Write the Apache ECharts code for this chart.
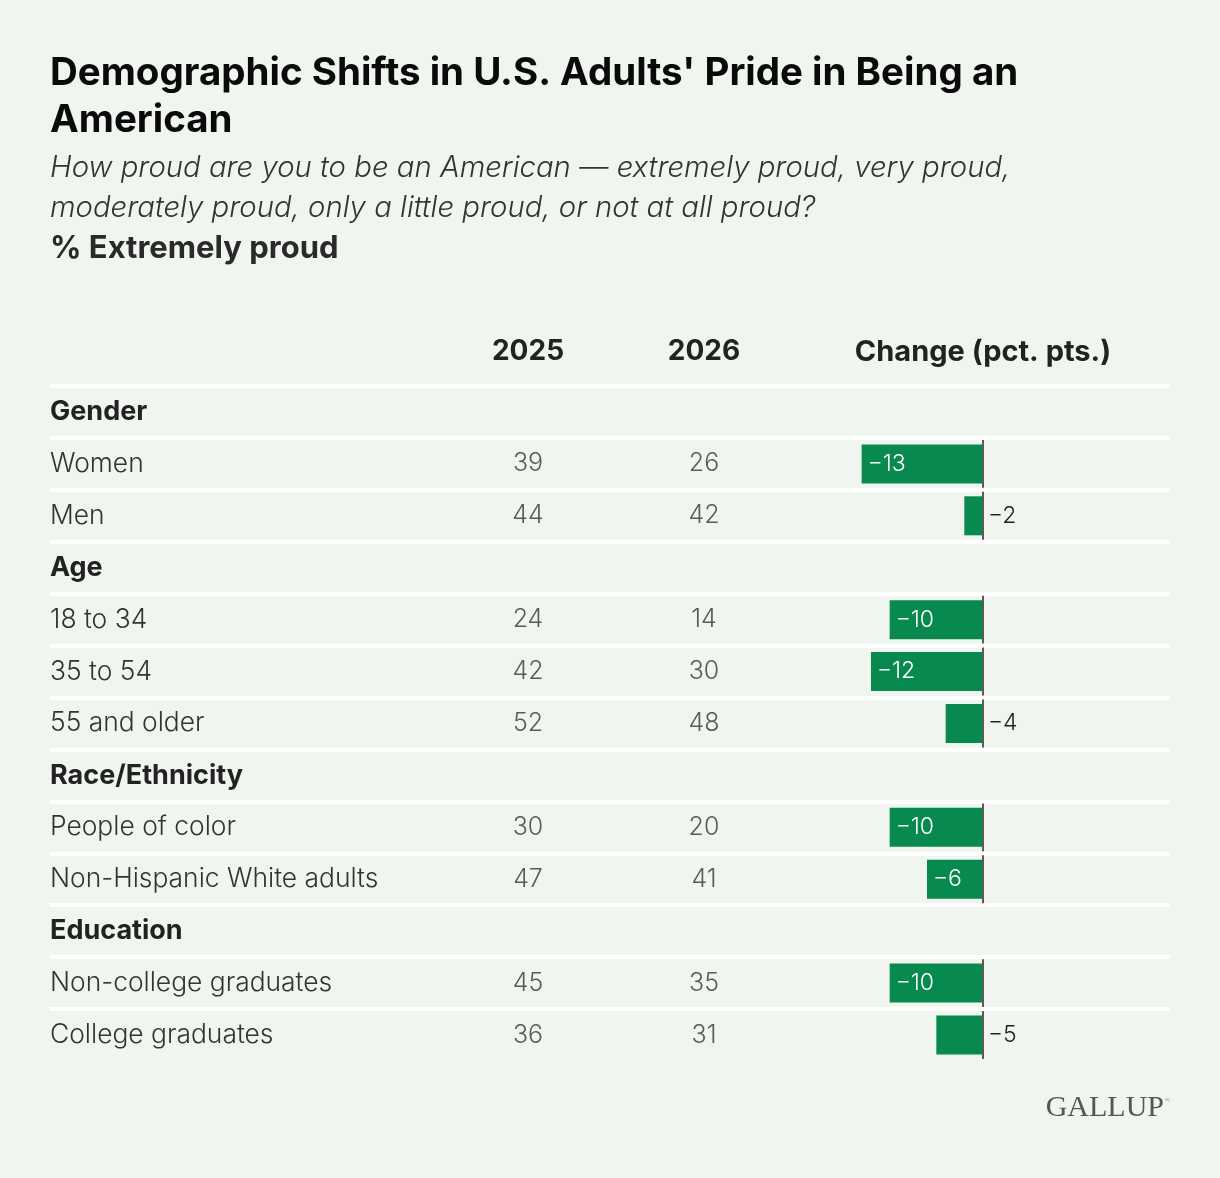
<!DOCTYPE html>
<html>
<head>
<meta charset="utf-8">
<title>Demographic Shifts in U.S. Adults' Pride in Being an American</title>
<script src="https://cdn.jsdelivr.net/npm/echarts@6/dist/echarts.min.js"></script>
<style>
  html, body { margin: 0; padding: 0; background: #f0f6ef; }
  #chart { width: 1220px; height: 1178px; }
</style>
</head>
<body>
<div id="chart"></div>
<script>
// rows of the table, top to bottom (group headers included)
var rows = ['Gender', 'Women', 'Men', 'Age', '18 to 34', '35 to 54', '55 and older',
  'Race/Ethnicity', 'People of color', 'Non-Hispanic White adults',
  'Education', 'Non-college graduates', 'College graduates'];
var isHeader = [true, false, false, true, false, false, false, true, false, false, true, false, false];
// % extremely proud
var v2025 = [null, 39, 44, null, 24, 42, 52, null, 30, 47, null, 45, 36];
var v2026 = [null, 26, 42, null, 14, 30, 48, null, 20, 41, null, 35, 31];
// change, pct. pts.
var change = [null, -13, -2, null, -10, -12, -4, null, -10, -6, null, -10, -5];
var colHeaders = ['2025', '2026', 'Change (pct. pts.)'];

var chart = echarts.init(document.getElementById('chart'));

var FONT = 'Inter, "Noto Sans", sans-serif';
var GREEN = '#08894d';
var TOP = 386, HEIGHT = 675;

// y axis shared by every column
function rowAxis(grid, extra) {
  var ax = {
    type: 'category', gridIndex: grid, data: rows, inverse: true,
    axisLine: { show: false }, axisTick: { show: false },
    axisLabel: { show: false }, splitLine: { show: false }
  };
  for (var k in extra) ax[k] = extra[k];
  return ax;
}

// one text column of numbers
function numColumn(grid, values) {
  var data = [];
  values.forEach(function (v, i) {
    if (v != null) data.push([0, i, v]);
  });
  return {
    type: 'scatter', xAxisIndex: grid, yAxisIndex: grid,
    symbolSize: 0, silent: true, data: data,
    label: {
      show: true, position: 'inside', color: '#333',
      fontFamily: FONT, fontSize: 25, fontWeight: 300,
      formatter: function (p) { return p.value[2]; }
    }
  };
}

var barData = change.map(function (v) {
  if (v == null) return '-';
  var inside = v <= -6;
  return {
    value: v,
    label: inside
      ? { position: 'insideLeft', color: '#fff', distance: 6 }
      : { position: 'right', color: '#222', distance: 5 }
  };
});

var zeroData = [];
change.forEach(function (v, i) { if (v != null) zeroData.push([0, i]); });

var headLabel = { margin: 34, verticalAlign: 'middle', fontFamily: FONT, fontSize: 28, fontWeight: 'bold', color: '#222' };

var option = {
  backgroundColor: '#f0f6ef',
  animation: false,
  title: [
    {
      text: "Demographic Shifts in U.S. Adults' Pride in Being an\nAmerican",
      left: 50, top: 50, padding: 0,
      textStyle: { fontFamily: FONT, fontSize: 38.5, fontWeight: 'bold', color: '#0a0a0a', lineHeight: 47 }
    },
    {
      text: 'How proud are you to be an American \u2014 extremely proud, very proud,\nmoderately proud, only a little proud, or not at all proud?',
      left: 50, top: 148, padding: 0,
      textStyle: { fontFamily: FONT, fontSize: 29.3, fontStyle: 'italic', fontWeight: 300, color: '#333', lineHeight: 40 }
    },
    {
      text: '% Extremely proud',
      left: 50, top: 234, padding: 0,
      textStyle: { fontFamily: FONT, fontSize: 31, fontWeight: 'bold', color: '#2a2a2a', lineHeight: 30 }
    }
  ],
  grid: [
    { left: 50, right: 50, top: TOP, height: HEIGHT },   // row labels + separators
    { left: 478, width: 100, top: TOP, height: HEIGHT }, // 2025
    { left: 654, width: 100, top: TOP, height: HEIGHT }, // 2026
    { left: 843, width: 280, top: TOP, height: HEIGHT }  // change bars
  ],
  xAxis: [
    { type: 'value', gridIndex: 0, show: false },
    {
      type: 'category', gridIndex: 1, data: [colHeaders[0]], position: 'top',
      axisLine: { show: false }, axisTick: { show: false }, axisLabel: headLabel
    },
    {
      type: 'category', gridIndex: 2, data: [colHeaders[1]], position: 'top',
      axisLine: { show: false }, axisTick: { show: false }, axisLabel: headLabel
    },
    {
      type: 'value', gridIndex: 3, min: -15, max: 15, position: 'top',
      name: colHeaders[2], nameLocation: 'middle', nameGap: 34,
      nameTextStyle: { verticalAlign: 'middle', fontFamily: FONT, fontSize: 29, fontWeight: 'bold', color: '#222' },
      axisLine: { show: false }, axisTick: { show: false },
      axisLabel: { show: false }, splitLine: { show: false }
    }
  ],
  yAxis: [
    rowAxis(0, {
      axisLabel: {
        show: true, interval: 0, align: 'left', margin: 0,
        formatter: function (v, i) {
          return isHeader[i] ? '{h|' + v + '}' : '{n|' + v + '}';
        },
        rich: {
          h: { fontFamily: FONT, fontSize: 27, fontWeight: 'bold', color: '#222' },
          n: { fontFamily: FONT, fontSize: 26.4, fontWeight: 300, color: '#333' }
        }
      },
      splitLine: {
        show: true, interval: 0, showMinLine: true, showMaxLine: false,
        lineStyle: { color: '#ffffff', width: 4 }
      }
    }),
    rowAxis(1),
    rowAxis(2),
    rowAxis(3)
  ],
  series: [
    numColumn(1, v2025),
    numColumn(2, v2026),
    {
      type: 'bar', xAxisIndex: 3, yAxisIndex: 3,
      data: barData, barWidth: 39, silent: true,
      itemStyle: { color: GREEN },
      label: {
        show: true, fontFamily: FONT, fontSize: 23, fontWeight: 300,
        formatter: function (p) { return '\u2212' + Math.abs(p.value); }
      }
    },
    {
      // zero line, drawn per data row
      type: 'custom', xAxisIndex: 3, yAxisIndex: 3, silent: true, z: 5,
      data: zeroData,
      renderItem: function (params, api) {
        var p = api.coord([0, api.value(1)]);
        var h = api.size([0, 1])[1];
        return {
          type: 'line',
          shape: { x1: p[0], y1: p[1] - h / 2 + 2, x2: p[0], y2: p[1] + h / 2 - 2 },
          style: { stroke: '#5a5a5a', lineWidth: 2 }
        };
      }
    }
  ],
  graphic: [
    {
      type: 'text', right: 56, top: 1093,
      style: { text: 'GALLUP', font: '30px "Liberation Serif", serif', fill: '#555' }
    },
    {
      type: 'text', right: 50, top: 1097,
      style: { text: '\u00ae', font: '7px "Liberation Serif", serif', fill: '#777' }
    }
  ]
};

chart.setOption(option);
</script>
</body>
</html>
